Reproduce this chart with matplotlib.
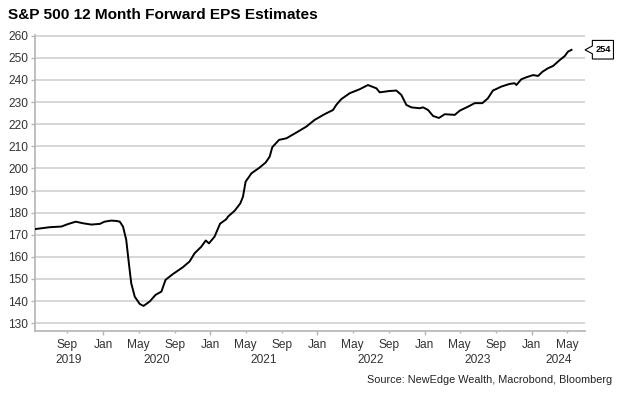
import pandas as pd
import matplotlib
matplotlib.use("Agg")
import matplotlib.pyplot as plt
import matplotlib.dates as mdates
import matplotlib.transforms as mtransforms
from matplotlib.patches import Polygon

# readings (date, 12m fwd EPS)
dates = ["2019-05-17", "2019-07-03", "2019-08-12", "2019-09-03", "2019-09-30",
         "2019-10-24", "2019-11-22", "2019-12-21", "2020-01-06", "2020-01-29",
         "2020-02-17", "2020-02-27", "2020-03-09", "2020-03-20", "2020-03-29",
         "2020-04-06", "2020-04-18", "2020-05-05", "2020-05-18", "2020-06-08",
         "2020-06-28", "2020-07-18", "2020-08-01", "2020-08-26", "2020-09-29",
         "2020-10-22", "2020-11-08", "2020-12-01", "2020-12-16", "2020-12-27",
         "2021-01-15", "2021-02-03", "2021-02-24", "2021-03-02", "2021-03-25",
         "2021-04-13", "2021-04-22", "2021-05-01", "2021-05-21", "2021-06-15",
         "2021-07-08", "2021-07-22", "2021-07-31", "2021-08-23", "2021-09-17",
         "2021-10-21", "2021-11-24", "2021-12-22", "2022-01-25", "2022-02-23",
         "2022-03-06", "2022-03-23", "2022-04-21", "2022-05-25", "2022-06-22",
         "2022-07-21", "2022-08-01", "2022-09-04", "2022-09-27", "2022-10-14",
         "2022-10-31", "2022-11-17", "2022-12-15", "2022-12-27", "2023-01-13",
         "2023-01-30", "2023-02-19", "2023-03-11", "2023-04-14", "2023-05-01",
         "2023-05-29", "2023-06-21", "2023-07-17", "2023-08-05", "2023-08-22",
         "2023-09-20", "2023-10-18", "2023-11-04", "2023-11-10", "2023-11-27",
         "2023-12-14", "2024-01-06", "2024-01-23", "2024-02-07", "2024-02-26",
         "2024-03-14", "2024-04-06", "2024-04-23", "2024-05-04", "2024-05-16"]
eps = [172.6, 173.4, 173.7, 174.8, 175.9,
       175.2, 174.6, 174.9, 175.9, 176.4,
       176.2, 175.9, 173.7, 167.7, 157.1,
       148.1, 142.0, 138.7, 137.8, 139.8,
       142.8, 144.3, 149.6, 152.2, 155.3,
       157.9, 161.6, 164.6, 167.4, 166.1,
       169.1, 175.0, 177.0, 178.2, 180.9,
       184.2, 187.2, 194.0, 197.8, 200.1,
       202.6, 205.3, 209.6, 212.9, 213.6,
       216.2, 218.9, 221.9, 224.5, 226.4,
       228.7, 231.3, 234.0, 235.8, 237.7,
       236.2, 234.4, 235.0, 235.2, 233.2,
       228.7, 227.6, 227.2, 227.6, 226.4,
       223.7, 222.8, 224.5, 224.2, 226.1,
       227.9, 229.5, 229.5, 231.7, 235.2,
       237.0, 238.2, 238.5, 237.7, 240.3,
       241.2, 242.2, 241.8, 243.7, 245.3,
       246.3, 249.0, 250.8, 252.8, 253.6]
yticks = list(range(130, 261, 10))

x0 = pd.Timestamp("2019-05-14")
x1 = pd.Timestamp("2024-07-01")

plt.rcParams["font.family"] = ["Liberation Sans", "DejaVu Sans"]
txtcol = "#333333"
gray = "#b4b4b4"

fig = plt.figure(figsize=(6.24, 3.95), dpi=100)
ax = fig.add_axes([35/624, 1-330.7/395, 550/624, (330.7-34.6)/395])

for v in yticks:
    ax.axhline(v, color="#d4d4d4", lw=1.3, zorder=0)

ax.plot(pd.to_datetime(dates), eps, color="black", lw=1.4, zorder=3)

ax.set_xlim(x0, x1)
ax.set_ylim(126.6, 260.5)
ax.set_yticks(yticks)

for s in ["top", "right"]:
    ax.spines[s].set_visible(False)
for s in ["left", "bottom"]:
    ax.spines[s].set_color(gray)
    ax.spines[s].set_linewidth(1.2)

ax.tick_params(axis="y", direction="out", length=3, width=1, color=gray,
               pad=2, labelsize=8.6, labelcolor=txtcol)

ax.xaxis.set_major_locator(mdates.MonthLocator(bymonth=[1]))
ax.xaxis.set_minor_locator(mdates.MonthLocator(bymonth=[5, 9]))
ax.xaxis.set_major_formatter(mdates.DateFormatter("%b"))
ax.xaxis.set_minor_formatter(mdates.DateFormatter("%b"))
ax.tick_params(axis="x", which="major", direction="out", length=3, width=1,
               color=gray, pad=3, labelsize=8.6, labelcolor=txtcol)
ax.tick_params(axis="x", which="minor", direction="out", length=1.5, width=1,
               color=gray, pad=4.5, labelsize=8.6, labelcolor=txtcol)

# year labels centred on the visible part of each year
for yr in range(x0.year, x1.year + 1):
    a = max(pd.Timestamp(f"{yr}-01-01"), x0)
    b = min(pd.Timestamp(f"{yr+1}-01-01"), x1)
    mid = a + (b - a) / 2
    ax.annotate(str(yr), xy=(mid, 0), xycoords=("data", "axes fraction"),
                xytext=(0, -21.3), textcoords="offset points",
                ha="center", va="center", fontsize=8.6, color=txtcol)

# last value callout
base = mtransforms.blended_transform_factory(ax.transAxes, ax.transData)
tr = (mtransforms.Affine2D().scale(fig.dpi / 72.0)
      + mtransforms.ScaledTranslation(1.0, eps[-1], base))
pts = [(0, 0), (5.3, 2.8), (5.3, 6.8), (20.5, 6.8), (20.5, -6.6), (5.3, -6.6), (5.3, -2.8)]
callout = Polygon(pts, closed=True, fc="white", ec="black", lw=0.8,
                  transform=tr, clip_on=False, zorder=5)
ax.add_patch(callout)
ax.text(12.9, 0.1, f"{eps[-1]:.0f}", transform=tr, ha="center", va="center",
        fontsize=6.6, weight="bold", zorder=6, clip_on=False)

fig.text(8/624, 1-15/395, "S&P 500 12 Month Forward EPS Estimates",
         ha="left", va="center", fontsize=11.1, weight="bold", color="black")
fig.text(611.7/624, 1-380/395, "Source: NewEdge Wealth, Macrobond, Bloomberg",
         ha="right", va="center", fontsize=7.85, color="#222222")

fig.savefig("out.png", dpi=100)
